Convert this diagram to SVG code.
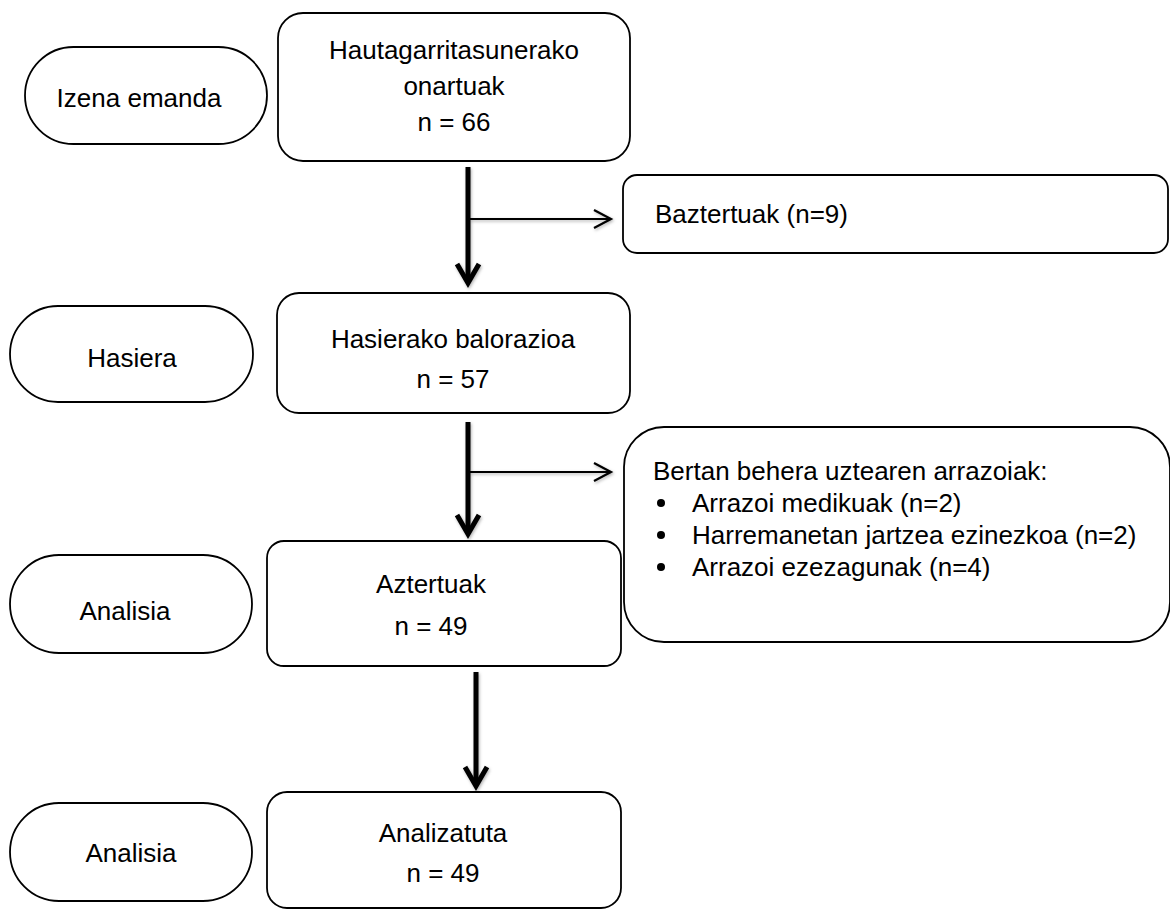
<svg xmlns="http://www.w3.org/2000/svg" width="1170" height="912" viewBox="0 0 1170 912">
  <style>
    .shape { fill: #ffffff; stroke: #000000; stroke-width: 1.8; }
    .label { font-family: "Liberation Sans", Arial, sans-serif; font-size: 26px; fill: #000000; }
    .mid { text-anchor: middle; }
    .flow { fill: none; stroke: #000000; stroke-width: 5; }
    .side { fill: none; stroke: #000000; stroke-width: 2; }
  </style>
  <defs>
    <filter id="soft" x="-20%" y="-20%" width="140%" height="140%">
      <feDropShadow dx="1" dy="1.5" stdDeviation="1.6" flood-color="#000000" flood-opacity="0.3"/>
    </filter>
    <marker id="headBig" markerUnits="userSpaceOnUse" viewBox="-26 -16 32 32" refX="0" refY="0" markerWidth="32" markerHeight="32" orient="auto" overflow="visible">
      <path d="M -19 -11 L 0 0 L -19 11" fill="none" stroke="#000000" stroke-width="5" stroke-linejoin="miter"/>
    </marker>
    <marker id="headSmall" markerUnits="userSpaceOnUse" viewBox="-22 -12 26 24" refX="0" refY="0" markerWidth="26" markerHeight="24" orient="auto" overflow="visible">
      <path d="M -17 -9 L 0 0 L -17 9" fill="none" stroke="#000000" stroke-width="2.2"/>
    </marker>
  </defs>

  <rect width="1170" height="912" fill="#ffffff"/>

  <!-- connectors -->
  <g id="connectors" filter="url(#soft)">
    <path class="flow" d="M 468 167 L 468 283" marker-end="url(#headBig)"/>
    <path class="side" d="M 468 219 L 611 219" marker-end="url(#headSmall)"/>
    <path class="flow" d="M 468 422 L 468 534" marker-end="url(#headBig)"/>
    <path class="side" d="M 468 472 L 611 472" marker-end="url(#headSmall)"/>
    <path class="flow" d="M 476 672 L 476 786" marker-end="url(#headBig)"/>
  </g>

  <!-- stage: enrolment -->
  <g id="stage-izena">
    <rect class="shape" x="25" y="47" width="242" height="97" rx="48.5"/>
    <text class="label mid" x="139" y="107">Izena emanda</text>
  </g>

  <g id="box-eligible">
    <rect class="shape" x="278" y="13" width="352" height="148" rx="25"/>
    <text class="label mid" x="454" y="59">Hautagarritasunerako</text>
    <text class="label mid" x="454" y="95">onartuak</text>
    <text class="label mid" x="454" y="131">n = 66</text>
  </g>

  <g id="box-excluded">
    <rect class="shape" x="623" y="175" width="545" height="78" rx="14"/>
    <text class="label" x="655" y="223">Baztertuak (n=9)</text>
  </g>

  <!-- stage: baseline -->
  <g id="stage-hasiera">
    <rect class="shape" x="10" y="306" width="243" height="96" rx="48"/>
    <text class="label mid" x="132" y="367">Hasiera</text>
  </g>

  <g id="box-baseline">
    <rect class="shape" x="277" y="293" width="353" height="120" rx="22"/>
    <text class="label mid" x="453" y="348">Hasierako balorazioa</text>
    <text class="label mid" x="453" y="388">n = 57</text>
  </g>

  <g id="box-dropout">
    <rect class="shape" x="624" y="427" width="546" height="215" rx="40"/>
    <text class="label" x="653" y="480">Bertan behera uztearen arrazoiak:</text>
    <circle cx="661" cy="503" r="4"/>
    <text class="label" x="692" y="512">Arrazoi medikuak (n=2)</text>
    <circle cx="661" cy="535" r="4"/>
    <text class="label" x="692" y="544">Harremanetan jartzea ezinezkoa (n=2)</text>
    <circle cx="661" cy="567" r="4"/>
    <text class="label" x="692" y="576">Arrazoi ezezagunak (n=4)</text>
  </g>

  <!-- stage: analysis -->
  <g id="stage-analisia-1">
    <rect class="shape" x="10" y="555" width="242" height="98" rx="49"/>
    <text class="label mid" x="125" y="620">Analisia</text>
  </g>

  <g id="box-examined">
    <rect class="shape" x="267" y="541" width="354" height="125" rx="17"/>
    <text class="label mid" x="431" y="593">Aztertuak</text>
    <text class="label mid" x="431" y="635">n = 49</text>
  </g>

  <g id="stage-analisia-2">
    <rect class="shape" x="10" y="803" width="242" height="98" rx="49"/>
    <text class="label mid" x="131" y="862">Analisia</text>
  </g>

  <g id="box-analysed">
    <rect class="shape" x="267" y="792" width="354" height="116" rx="20"/>
    <text class="label mid" x="443" y="842">Analizatuta</text>
    <text class="label mid" x="443" y="882">n = 49</text>
  </g>
</svg>
